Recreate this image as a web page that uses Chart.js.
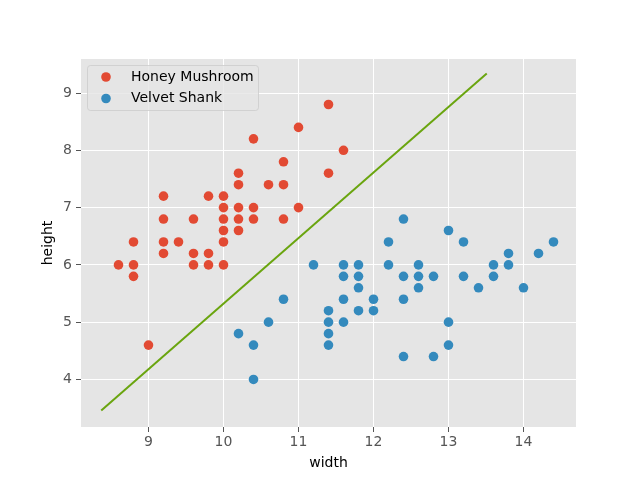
<!DOCTYPE html>
<html lang="en">
<head>
    <meta charset="UTF-8">
    <title>Honey Mushroom vs Velvet Shank</title>
    <script src="https://cdn.jsdelivr.net/npm/chart.js"></script>
    <style>
        body {
            margin: 0;
            padding: 0;
            background-color: #ffffff;
        }
    </style>
</head>
<body>
    <canvas id="mushroomChart" width="640" height="480"></canvas>

    <script>
        // Honey Mushroom samples
        const honeyWidth = [8.6, 8.8, 8.8, 8.8, 9.0, 9.2, 9.2, 9.2, 9.2, 9.4, 9.6, 9.6, 9.6, 9.8, 9.8, 9.8,
            10.0, 10.0, 10.0, 10.0, 10.0, 10.0, 10.2, 10.2, 10.2, 10.2, 10.2, 10.4, 10.4, 10.4, 10.6,
            10.8, 10.8, 10.8, 11.0, 11.0, 11.4, 11.4, 11.6];
        const honeyHeight = [6.0, 6.0, 5.8, 6.4, 4.6, 7.2, 6.8, 6.4, 6.2, 6.4, 6.8, 6.2, 6.0, 7.2, 6.2, 6.0,
            7.2, 7.0, 6.8, 6.6, 6.4, 6.0, 7.6, 7.4, 7.0, 6.8, 6.6, 8.2, 7.0, 6.8, 7.4,
            7.8, 7.4, 6.8, 8.4, 7.0, 8.8, 7.6, 8.0];

        // Velvet Shank samples
        const velvetWidth = [10.2, 10.4, 10.4, 10.6, 10.8, 11.2, 11.4, 11.4, 11.4, 11.4, 11.6, 11.6, 11.6, 11.6,
            11.8, 11.8, 11.8, 11.8, 12.0, 12.0, 12.2, 12.2, 12.4, 12.4, 12.4, 12.4, 12.6, 12.6, 12.6,
            12.8, 12.8, 13.0, 13.0, 13.0, 13.2, 13.2, 13.4, 13.6, 13.6, 13.8, 13.8, 14.0, 14.2, 14.4];
        const velvetHeight = [4.8, 4.6, 4.0, 5.0, 5.4, 6.0, 5.2, 5.0, 4.8, 4.6, 6.0, 5.8, 5.4, 5.0,
            6.0, 5.8, 5.6, 5.2, 5.4, 5.2, 6.4, 6.0, 6.8, 5.8, 5.4, 4.4, 6.0, 5.8, 5.6,
            5.8, 4.4, 6.6, 5.0, 4.6, 6.4, 5.8, 5.6, 6.0, 5.8, 6.2, 6.0, 5.6, 6.2, 6.4];

        // separating line (end points)
        const boundaryWidth = [8.37, 13.51];
        const boundaryHeight = [3.46, 9.34];

        const xTicks = [9, 10, 11, 12, 13, 14];
        const yTicks = [4, 5, 6, 7, 8, 9];

        const FONT = "'DejaVu Sans', sans-serif";

        function toPoints(xs, ys) {
            return xs.map((x, i) => ({ x: x, y: ys[i] }));
        }

        // grey plot background like ggplot style
        const plotBackground = {
            id: 'plotBackground',
            beforeDraw(chart) {
                const ctx = chart.ctx;
                const a = chart.chartArea;
                ctx.save();
                ctx.fillStyle = '#ffffff';
                ctx.fillRect(0, 0, chart.width, chart.height);
                ctx.fillStyle = '#e5e5e5';
                ctx.fillRect(a.left, a.top, a.right - a.left, a.bottom - a.top);
                ctx.restore();
            }
        };

        // legend inside the top-left corner of the plot
        const insideLegend = {
            id: 'insideLegend',
            afterDraw(chart) {
                const ctx = chart.ctx;
                const x0 = 87.5, y0 = 65.5, w = 171, h = 45;
                ctx.save();
                ctx.beginPath();
                ctx.roundRect(x0, y0, w, h, 3);
                ctx.fillStyle = 'rgba(229,229,229,0.8)';
                ctx.fill();
                ctx.strokeStyle = 'rgba(204,204,204,0.8)';
                ctx.lineWidth = 1;
                ctx.stroke();

                ctx.font = '14px ' + FONT;
                ctx.textBaseline = 'middle';
                chart.data.datasets.slice(0, 2).forEach((ds, i) => {
                    const cy = 77 + i * 21.5;
                    ctx.beginPath();
                    ctx.arc(106, cy, 4.8, 0, Math.PI * 2);
                    ctx.fillStyle = ds.backgroundColor;
                    ctx.fill();
                    ctx.fillStyle = '#000000';
                    ctx.fillText(ds.label, 131, cy);
                });
                ctx.restore();
            }
        };

        const ctx = document.getElementById('mushroomChart').getContext('2d');

        new Chart(ctx, {
            type: 'scatter',
            data: {
                datasets: [{
                    label: 'Honey Mushroom',
                    data: toPoints(honeyWidth, honeyHeight),
                    backgroundColor: '#E24A33',
                    borderWidth: 0,
                    pointRadius: 4.8,
                    order: 2
                }, {
                    label: 'Velvet Shank',
                    data: toPoints(velvetWidth, velvetHeight),
                    backgroundColor: '#348ABD',
                    borderWidth: 0,
                    pointRadius: 4.8,
                    order: 1
                }, {
                    label: 'boundary',
                    data: toPoints(boundaryWidth, boundaryHeight),
                    showLine: true,
                    borderColor: '#6aa50f',
                    borderWidth: 2,
                    pointRadius: 0,
                    fill: false,
                    order: 0
                }]
            },
            options: {
                responsive: false,
                animation: false,
                devicePixelRatio: 1,
                layout: {
                    padding: { top: 59, right: 64, bottom: 0, left: 0 }
                },
                plugins: {
                    legend: { display: false },
                    tooltip: { enabled: false }
                },
                scales: {
                    x: {
                        type: 'linear',
                        min: 8.1,
                        max: 14.7,
                        afterBuildTicks: axis => { axis.ticks = xTicks.map(v => ({ value: v })); },
                        afterFit: scale => { scale.height = 53; },
                        border: { display: false },
                        grid: { color: '#ffffff', lineWidth: 1, tickColor: '#555555', tickLength: 5 },
                        ticks: {
                            color: '#555555',
                            font: { family: FONT, size: 14 },
                            padding: 2,
                            maxRotation: 0,
                            autoSkip: false
                        },
                        title: {
                            display: true,
                            text: 'width',
                            color: '#000000',
                            font: { family: FONT, size: 14 },
                            padding: { top: 0, bottom: 8.5 }
                        }
                    },
                    y: {
                        type: 'linear',
                        min: 3.17,
                        max: 9.594,
                        afterBuildTicks: axis => { axis.ticks = yTicks.map(v => ({ value: v })); },
                        afterFit: scale => { scale.width = 81; },
                        border: { display: false },
                        grid: { color: '#ffffff', lineWidth: 1, tickColor: '#555555', tickLength: 5 },
                        ticks: {
                            color: '#555555',
                            font: { family: FONT, size: 14 },
                            padding: 4,
                            autoSkip: false
                        },
                        title: {
                            display: true,
                            text: 'height',
                            color: '#000000',
                            font: { family: FONT, size: 14 },
                            padding: { top: 40, bottom: 0 }
                        }
                    }
                }
            },
            plugins: [plotBackground, insideLegend]
        });
    </script>
</body>
</html>
